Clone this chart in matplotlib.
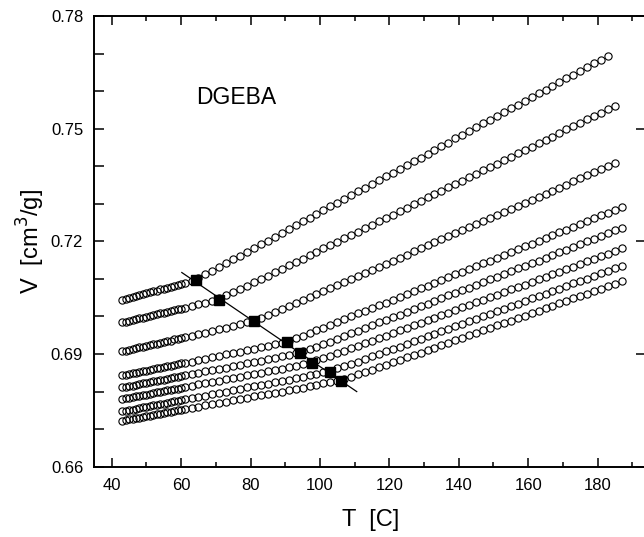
import matplotlib
matplotlib.use("Agg")
import matplotlib.pyplot as plt
from matplotlib.ticker import MultipleLocator, FormatStrFormatter

plt.rcParams['font.family'] = ['Liberation Sans', 'DejaVu Sans']

# temperature readings (C): dense start, then ~2 C spacing
T_dense = [43, 44, 45, 46, 47, 48, 49, 50, 51, 52, 53, 54, 55, 56, 57, 58, 59, 60, 61]
T_sparse = [63, 65, 67, 69, 71, 73, 75, 77, 79, 81, 83, 85, 87, 89, 91, 93, 95, 97, 99,
            101, 103, 105, 107, 109, 111, 113, 115, 117, 119, 121, 123, 125, 127, 129,
            131, 133, 135, 137, 139, 141, 143, 145, 147, 149, 151, 153, 155, 157, 159,
            161, 163, 165, 167, 169, 171, 173, 175, 177, 179, 181, 183, 185, 187]
T_grid = T_dense + T_sparse

# specific volume readings (cm^3/g), one list per curve (top to bottom)
V_1 = [0.7044, 0.7047, 0.7049, 0.7052, 0.7054, 0.7057, 0.7059, 0.7062, 0.7064, 0.7067,
       0.7069, 0.7072, 0.7074, 0.7077, 0.7079, 0.7082, 0.7084, 0.7087, 0.7089,
       0.7095, 0.7103, 0.7112, 0.7122, 0.7132, 0.7142, 0.7152, 0.7162, 0.7172, 0.7182,
       0.7192, 0.7202, 0.7212, 0.7222, 0.7233, 0.7243, 0.7253, 0.7263, 0.7273, 0.7283,
       0.7293, 0.7303, 0.7313, 0.7323, 0.7333, 0.7343, 0.7353, 0.7363, 0.7373, 0.7383,
       0.7393, 0.7403, 0.7413, 0.7423, 0.7433, 0.7443, 0.7453, 0.7463, 0.7474, 0.7484,
       0.7494, 0.7504, 0.7514, 0.7524, 0.7534, 0.7544, 0.7554, 0.7564, 0.7574, 0.7584,
       0.7594, 0.7604, 0.7614, 0.7624, 0.7634, 0.7644, 0.7654, 0.7664, 0.7674, 0.7684,
       0.7694]
V_2 = [0.6984, 0.6986, 0.6988, 0.6991, 0.6993, 0.6995, 0.6997, 0.6999, 0.7002, 0.7004,
       0.7006, 0.7008, 0.7010, 0.7012, 0.7015, 0.7017, 0.7019, 0.7021, 0.7023,
       0.7028, 0.7033, 0.7037, 0.7042, 0.7048, 0.7056, 0.7064, 0.7073, 0.7082, 0.7091,
       0.7100, 0.7109, 0.7118, 0.7127, 0.7136, 0.7145, 0.7154, 0.7163, 0.7172, 0.7181,
       0.7190, 0.7199, 0.7208, 0.7217, 0.7226, 0.7235, 0.7244, 0.7253, 0.7262, 0.7271,
       0.7281, 0.7290, 0.7299, 0.7308, 0.7317, 0.7326, 0.7335, 0.7344, 0.7353, 0.7362,
       0.7371, 0.7380, 0.7389, 0.7398, 0.7407, 0.7416, 0.7425, 0.7434, 0.7443, 0.7452,
       0.7461, 0.7470, 0.7479, 0.7488, 0.7498, 0.7507, 0.7516, 0.7525, 0.7534, 0.7543,
       0.7552, 0.7561]
V_3 = [0.6907, 0.6909, 0.6911, 0.6913, 0.6915, 0.6918, 0.6920, 0.6922, 0.6924, 0.6926,
       0.6928, 0.6930, 0.6932, 0.6934, 0.6936, 0.6939, 0.6941, 0.6943, 0.6945,
       0.6949, 0.6953, 0.6957, 0.6962, 0.6966, 0.6970, 0.6974, 0.6979, 0.6985, 0.6989,
       0.6996, 0.7004, 0.7011, 0.7019, 0.7028, 0.7036, 0.7044, 0.7052, 0.7060, 0.7068,
       0.7076, 0.7084, 0.7092, 0.7100, 0.7109, 0.7117, 0.7125, 0.7133, 0.7141, 0.7149,
       0.7157, 0.7165, 0.7173, 0.7181, 0.7189, 0.7198, 0.7206, 0.7214, 0.7222, 0.7230,
       0.7238, 0.7246, 0.7254, 0.7262, 0.7270, 0.7279, 0.7287, 0.7295, 0.7303, 0.7311,
       0.7319, 0.7327, 0.7335, 0.7343, 0.7351, 0.7360, 0.7368, 0.7376, 0.7384, 0.7392,
       0.7400, 0.7408]
V_4 = [0.6843, 0.6845, 0.6847, 0.6849, 0.6850, 0.6852, 0.6854, 0.6856, 0.6858, 0.6860,
       0.6862, 0.6863, 0.6865, 0.6867, 0.6869, 0.6871, 0.6873, 0.6875, 0.6876,
       0.6880, 0.6884, 0.6888, 0.6891, 0.6895, 0.6899, 0.6902, 0.6906, 0.6910, 0.6913,
       0.6918, 0.6922, 0.6926, 0.6930, 0.6935, 0.6942, 0.6949, 0.6956, 0.6963, 0.6970,
       0.6978, 0.6985, 0.6993, 0.7000, 0.7008, 0.7015, 0.7022, 0.7030, 0.7037, 0.7045,
       0.7052, 0.7060, 0.7067, 0.7075, 0.7082, 0.7090, 0.7097, 0.7104, 0.7112, 0.7119,
       0.7127, 0.7134, 0.7142, 0.7149, 0.7157, 0.7164, 0.7172, 0.7179, 0.7187, 0.7194,
       0.7201, 0.7209, 0.7216, 0.7224, 0.7231, 0.7239, 0.7246, 0.7254, 0.7261, 0.7269,
       0.7276, 0.7284, 0.7291]
V_5 = [0.6811, 0.6813, 0.6815, 0.6816, 0.6818, 0.6820, 0.6822, 0.6823, 0.6825, 0.6827,
       0.6829, 0.6831, 0.6832, 0.6834, 0.6836, 0.6838, 0.6839, 0.6841, 0.6843,
       0.6846, 0.6850, 0.6854, 0.6857, 0.6861, 0.6864, 0.6868, 0.6871, 0.6875, 0.6878,
       0.6882, 0.6886, 0.6890, 0.6894, 0.6898, 0.6902, 0.6907, 0.6914, 0.6920, 0.6927,
       0.6933, 0.6941, 0.6948, 0.6955, 0.6962, 0.6969, 0.6977, 0.6984, 0.6991, 0.6998,
       0.7005, 0.7013, 0.7020, 0.7027, 0.7034, 0.7041, 0.7049, 0.7056, 0.7063, 0.7070,
       0.7077, 0.7085, 0.7092, 0.7099, 0.7106, 0.7113, 0.7121, 0.7128, 0.7135, 0.7142,
       0.7149, 0.7157, 0.7164, 0.7171, 0.7178, 0.7185, 0.7193, 0.7200, 0.7207, 0.7214,
       0.7221, 0.7229, 0.7236]
V_6 = [0.6780, 0.6782, 0.6784, 0.6785, 0.6787, 0.6789, 0.6791, 0.6792, 0.6794, 0.6796,
       0.6798, 0.6799, 0.6801, 0.6803, 0.6805, 0.6806, 0.6808, 0.6810, 0.6812,
       0.6815, 0.6819, 0.6822, 0.6826, 0.6829, 0.6833, 0.6836, 0.6840, 0.6843, 0.6847,
       0.6850, 0.6854, 0.6857, 0.6861, 0.6865, 0.6869, 0.6873, 0.6878, 0.6884, 0.6890,
       0.6895, 0.6902, 0.6908, 0.6915, 0.6922, 0.6929, 0.6935, 0.6942, 0.6949, 0.6956,
       0.6963, 0.6969, 0.6976, 0.6983, 0.6990, 0.6997, 0.7004, 0.7010, 0.7017, 0.7024,
       0.7031, 0.7038, 0.7044, 0.7051, 0.7058, 0.7065, 0.7072, 0.7079, 0.7085, 0.7092,
       0.7099, 0.7106, 0.7113, 0.7119, 0.7126, 0.7133, 0.7140, 0.7147, 0.7154, 0.7160,
       0.7167, 0.7174, 0.7181]
V_7 = [0.6747, 0.6749, 0.6751, 0.6752, 0.6754, 0.6756, 0.6758, 0.6759, 0.6761, 0.6763,
       0.6765, 0.6766, 0.6768, 0.6770, 0.6772, 0.6774, 0.6775, 0.6777, 0.6779,
       0.6782, 0.6786, 0.6789, 0.6793, 0.6797, 0.6800, 0.6804, 0.6807, 0.6811, 0.6814,
       0.6818, 0.6821, 0.6825, 0.6828, 0.6832, 0.6836, 0.6840, 0.6844, 0.6848, 0.6852,
       0.6856, 0.6862, 0.6868, 0.6874, 0.6880, 0.6887, 0.6894, 0.6900, 0.6907, 0.6914,
       0.6920, 0.6927, 0.6934, 0.6940, 0.6947, 0.6954, 0.6961, 0.6967, 0.6974, 0.6981,
       0.6987, 0.6994, 0.7001, 0.7007, 0.7014, 0.7021, 0.7028, 0.7034, 0.7041, 0.7048,
       0.7054, 0.7061, 0.7068, 0.7074, 0.7081, 0.7088, 0.7095, 0.7101, 0.7108, 0.7115,
       0.7121, 0.7128, 0.7135]
V_8 = [0.6723, 0.6725, 0.6726, 0.6728, 0.6730, 0.6731, 0.6733, 0.6735, 0.6736, 0.6738,
       0.6740, 0.6741, 0.6743, 0.6745, 0.6746, 0.6748, 0.6750, 0.6752, 0.6753,
       0.6757, 0.6760, 0.6763, 0.6767, 0.6770, 0.6773, 0.6777, 0.6780, 0.6783, 0.6787,
       0.6790, 0.6794, 0.6797, 0.6800, 0.6804, 0.6807, 0.6810, 0.6814, 0.6818, 0.6822,
       0.6826, 0.6829, 0.6834, 0.6840, 0.6846, 0.6852, 0.6858, 0.6865, 0.6871, 0.6878,
       0.6884, 0.6891, 0.6897, 0.6904, 0.6910, 0.6917, 0.6924, 0.6930, 0.6937, 0.6943,
       0.6950, 0.6956, 0.6963, 0.6969, 0.6976, 0.6982, 0.6989, 0.6995, 0.7002, 0.7009,
       0.7015, 0.7022, 0.7028, 0.7035, 0.7041, 0.7048, 0.7054, 0.7061, 0.7067, 0.7074,
       0.7080, 0.7087, 0.7094]
curves = [V_1, V_2, V_3, V_4, V_5, V_6, V_7, V_8]

# glass transition points (filled squares)
Tg_T = [64.3, 70.9, 81.0, 90.5, 94.3, 97.6, 102.9, 106.1]
Tg_V = [0.7098, 0.7045, 0.6987, 0.6931, 0.6902, 0.6876, 0.6853, 0.6829]

# straight line through the transition points
fit_T = [60.2, 110.6]
fit_V = [0.7117, 0.6800]

x_ticks = [40, 60, 80, 100, 120, 140, 160, 180]
y_ticks = [0.66, 0.69, 0.72, 0.75, 0.78]

fig = plt.figure(figsize=(6.44, 5.37), dpi=100)
ax = fig.add_axes([0.1465, 0.1309, 0.8569, 0.8393])

for V in curves:
    ax.plot(T_grid[:len(V)], V, linestyle='none', marker='o', markersize=5.2,
            markerfacecolor='none', markeredgecolor='black', markeredgewidth=0.8)

ax.plot(fit_T, fit_V, color='black', linewidth=0.9)
ax.plot(Tg_T, Tg_V, linestyle='none', marker='s', markersize=6.5,
        markerfacecolor='black', markeredgecolor='black')

ax.set_xlim(35, 194)
ax.set_ylim(0.66, 0.78)
ax.set_xticks(x_ticks)
ax.set_yticks(y_ticks)
ax.xaxis.set_minor_locator(MultipleLocator(10))
ax.yaxis.set_minor_locator(MultipleLocator(0.01))
ax.yaxis.set_major_formatter(FormatStrFormatter('%.2f'))

ax.tick_params(axis='x', which='major', direction='in', top=True, bottom=True,
               length=6.5, width=1.1, labelsize=12, pad=8)
ax.tick_params(axis='x', which='minor', direction='in', top=True, bottom=True,
               length=3.5, width=1.1)
ax.tick_params(axis='y', which='major', direction='in', left=True, right=True,
               length=7, width=1.1, labelsize=12, pad=8)
ax.tick_params(axis='y', which='minor', direction='in', left=True, right=False,
               length=7, width=1.1)

for s in ax.spines.values():
    s.set_linewidth(1.4)

ax.set_xlabel('T  [C]', fontsize=17, labelpad=12)
ax.set_ylabel('V  [cm$^3$/g]', fontsize=17, labelpad=3)

ax.text(64.3, 0.7565, 'DGEBA', fontsize=16.5, ha='left', va='baseline')

fig.savefig('out.png', dpi=100)
